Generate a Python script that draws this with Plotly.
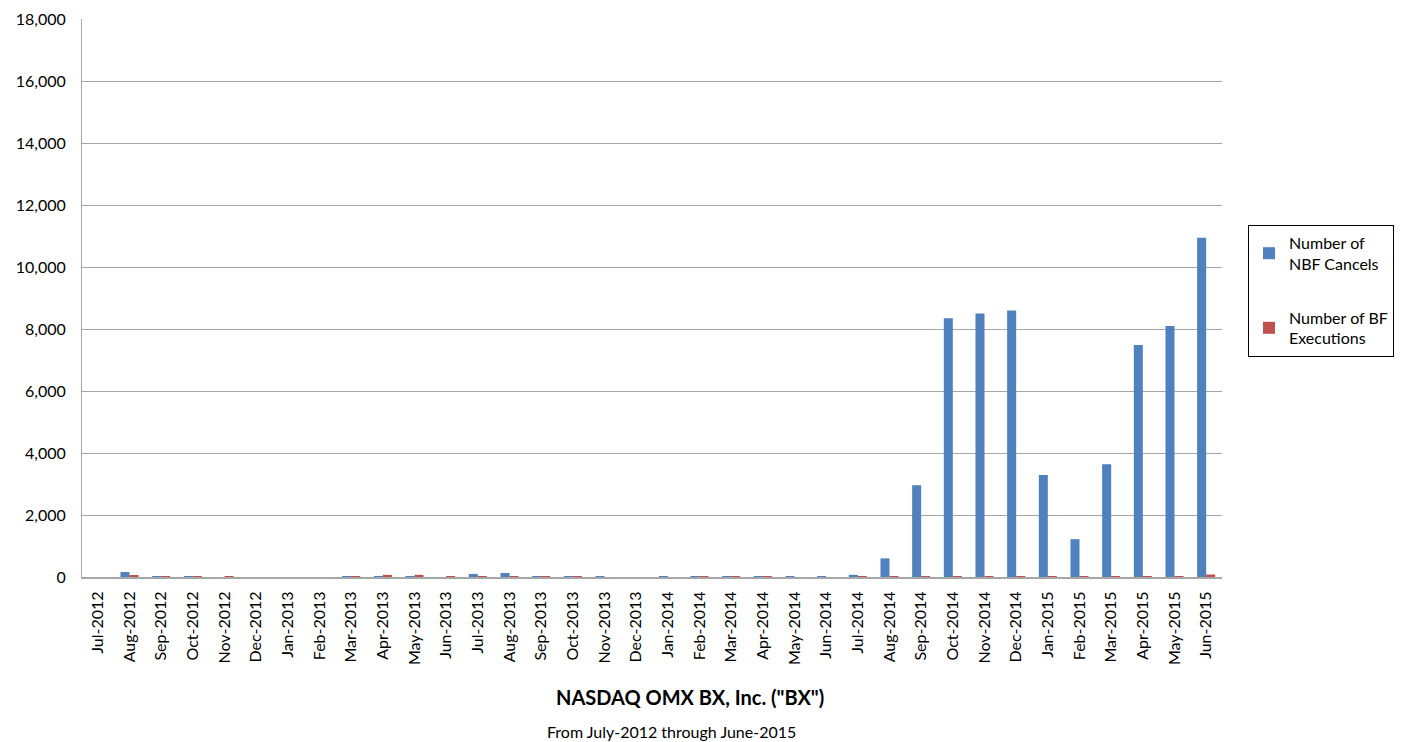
import plotly.graph_objects as go

months = ["Jul-2012", "Aug-2012", "Sep-2012", "Oct-2012", "Nov-2012", "Dec-2012",
          "Jan-2013", "Feb-2013", "Mar-2013", "Apr-2013", "May-2013", "Jun-2013",
          "Jul-2013", "Aug-2013", "Sep-2013", "Oct-2013", "Nov-2013", "Dec-2013",
          "Jan-2014", "Feb-2014", "Mar-2014", "Apr-2014", "May-2014", "Jun-2014",
          "Jul-2014", "Aug-2014", "Sep-2014", "Oct-2014", "Nov-2014", "Dec-2014",
          "Jan-2015", "Feb-2015", "Mar-2015", "Apr-2015", "May-2015", "Jun-2015"]

nbf_cancels = [0, 160, 30, 30, 0, 0,
               0, 0, 30, 30, 30, 0,
               100, 130, 30, 30, 30, 0,
               30, 30, 30, 30, 30, 30,
               70, 600, 2960, 8350, 8500, 8600,
               3290, 1220, 3640, 7480, 8100, 10940]

bf_executions = [0, 40, 30, 30, 30, 0,
                 0, 0, 30, 70, 70, 30,
                 30, 30, 30, 30, 0, 0,
                 0, 30, 30, 30, 0, 0,
                 30, 20, 30, 30, 30, 30,
                 30, 30, 30, 30, 30, 80]

y_ticks = [0, 2000, 4000, 6000, 8000, 10000, 12000, 14000, 16000, 18000]
y_tick_labels = ["0", "2,000", "4,000", "6,000", "8,000", "10,000", "12,000", "14,000", "16,000", "18,000"]

FONT = "Lato, Open Sans, sans-serif"

fig = go.Figure()
fig.add_trace(go.Bar(x=months, y=nbf_cancels, name="Number of<br>NBF Cancels",
                     legendgroup="a",
                     marker=dict(color="#4F81BD", line=dict(width=0))))
fig.add_trace(go.Bar(x=months, y=bf_executions, name="Number of BF<br>Executions",
                     legendgroup="b",
                     marker=dict(color="#C0504D", line=dict(width=0))))

fig.update_layout(
    width=1396, height=734,
    margin=dict(l=74, r=182, t=11, b=165, autoexpand=False),
    paper_bgcolor="white", plot_bgcolor="white",
    barmode="group", bargap=0.43, bargroupgap=0,
    font=dict(family=FONT, color="#000000", size=15),
    xaxis=dict(
        type="category", tickangle=-90, tickfont=dict(size=16, color="#000000"),
        showgrid=False, showline=True, linecolor="#A6A6A6", linewidth=2,
        ticks="", ticklen=0, ticklabelstandoff=6, automargin=False,
    ),
    yaxis=dict(
        range=[0, 18000], tickvals=y_ticks, ticktext=y_tick_labels,
        tickfont=dict(size=16, color="#000000"),
        showgrid=True, gridcolor="#A6A6A6", gridwidth=1,
        showline=True, linecolor="#A6A6A6", linewidth=1,
        zeroline=False, ticks="", ticklen=0, ticklabelstandoff=12, automargin=False,
    ),
    legend=dict(
        x=(1248 - 82) / 1140, y=0.631, xanchor="left", yanchor="top",
        bordercolor="#000000", borderwidth=1, bgcolor="white",
        font=dict(size=16, color="#000000", family=FONT),
        tracegroupgap=30, itemwidth=30,
    ),
    showlegend=True,
    annotations=[
        dict(text="<b>NASDAQ OMX BX, Inc. (\"BX\")</b>", x=(690 - 82) / 1140, y=-0.215,
             xref="paper", yref="paper", showarrow=False, xanchor="center", yanchor="middle",
             font=dict(size=20, color="#000000", family=FONT)),
        dict(text="From July-2012 through June-2015", x=(671 - 82) / 1140, y=-0.277,
             xref="paper", yref="paper", showarrow=False, xanchor="center", yanchor="middle",
             font=dict(size=16, color="#000000", family=FONT)),
    ],
)

fig.write_html("out.html")
